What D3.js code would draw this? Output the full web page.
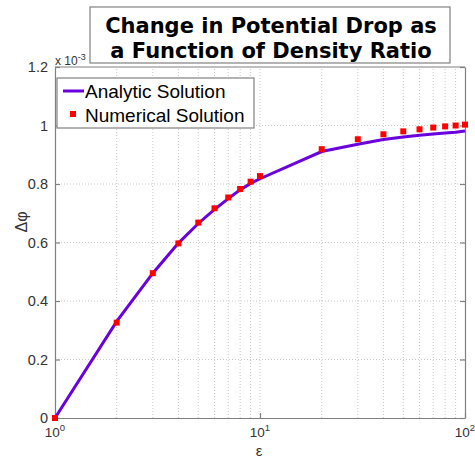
<!DOCTYPE html>
<html><head><meta charset="utf-8">
<script src="https://cdn.jsdelivr.net/npm/d3@7"></script>
<style>body{margin:0;background:#fff}</style>
</head><body>
<script>
const epsilon = [1,2,3,4,5,6,7,8,9,10,20,30,40,50,60,70,80,90,100];
const analytic = [0,0.33,0.495,0.598,0.665,0.713,0.75,0.78,0.802,0.818,0.911,0.936,0.952,0.961,0.967,0.971,0.974,0.977,0.981];
const numerical = [0,0.326,0.495,0.597,0.668,0.717,0.754,0.783,0.808,0.827,0.919,0.953,0.970,0.980,0.987,0.993,0.997,1.000,1.003];
const yTicks = [0,0.2,0.4,0.6,0.8,1,1.2];
const xTicks = [1,10,100];
const titleLines = ["Change in Potential Drop as","a Function of Density Ratio"];
const legendLabels = ["Analytic Solution","Numerical Solution"];

const W=475,H=458;
const m={l:55,r:10,t:67,b:40};
const svg=d3.select("body").append("svg").attr("width",W).attr("height",H);
const x=d3.scaleLog().domain([1,100]).range([m.l,W-m.r]);
const y=d3.scaleLinear().domain([0,1.2]).range([H-m.b,m.t]);
const grey="#808080";
const font="Liberation Sans, Arial";

// grid
const minor=[];
for(let d=1;d<100;d*=10) for(let k=2;k<=10;k++) minor.push(d*k);
svg.append("g").selectAll("line").data(minor.filter(v=>v<100)).join("line")
 .attr("x1",d=>x(d)).attr("x2",d=>x(d)).attr("y1",y(0)).attr("y2",y(1.2))
 .attr("stroke","#c8c8c8").attr("stroke-dasharray","1,2").attr("stroke-width",1);
svg.append("g").selectAll("line").data(yTicks.filter(v=>v>0&&v<1.2)).join("line")
 .attr("x1",x(1)).attr("x2",x(100)).attr("y1",d=>y(d)).attr("y2",d=>y(d))
 .attr("stroke","#c8c8c8").attr("stroke-dasharray","1,2").attr("stroke-width",1);

// axes
const yAx=svg.append("g").attr("transform",`translate(${m.l},0)`)
 .call(d3.axisLeft(y).tickValues(yTicks).tickFormat(d3.format("~g")).tickSizeInner(-5).tickSizeOuter(0).tickPadding(7));
const yAxR=svg.append("g").attr("transform",`translate(${W-m.r},0)`)
 .call(d3.axisRight(y).tickValues(yTicks).tickFormat("").tickSizeInner(-5).tickSizeOuter(0));
const xAx=svg.append("g").attr("transform",`translate(0,${H-m.b})`)
 .call(d3.axisBottom(x).tickValues(xTicks).tickFormat("").tickSizeInner(-5).tickSizeOuter(0));
[yAx,yAxR,xAx].forEach(g=>{g.selectAll("path,line").attr("stroke",grey).attr("stroke-width",1.2);
 g.selectAll("text").attr("fill","#333").attr("font-family",font).attr("font-size",14.5);});
svg.append("line").attr("x1",x(1)).attr("x2",x(100)).attr("y1",y(1.2)).attr("y2",y(1.2)).attr("stroke",grey).attr("stroke-width",1.2);

// x tick labels 10^n
xTicks.forEach(v=>{
 const t=svg.append("text").attr("x",x(v)).attr("y",437).attr("text-anchor","middle")
  .attr("font-family",font).attr("font-size",13.5).attr("fill","#333");
 t.append("tspan").text("10");
 t.append("tspan").attr("dy",-6).attr("font-size",9.5).text(Math.round(Math.log10(v)));
});
// exponent
const ex=svg.append("text").attr("x",m.l).attr("y",m.t-2).attr("font-family",font).attr("font-size",12).attr("fill","#333");
ex.append("tspan").text("x 10");
ex.append("tspan").attr("dy",-5).attr("font-size",9).text("-3");

// axis labels
svg.append("text").attr("transform",`translate(27,222) rotate(-90)`).attr("text-anchor","middle")
 .attr("font-family",font).attr("font-size",16).attr("fill","#333").text("Δφ");
svg.append("text").attr("x",x(10)-1).attr("y",456).attr("text-anchor","middle")
 .attr("font-family",font).attr("font-size",15).attr("fill","#333").text("ε");

// line
const lineGen=d3.line().x((d,i)=>x(epsilon[i])).y(d=>y(d));
svg.append("path").datum(analytic).attr("d",lineGen).attr("fill","none").attr("stroke","#6a00dc").attr("stroke-width",3);
// markers
const s=6;
svg.append("g").selectAll("rect").data(numerical).join("rect")
 .attr("x",(d,i)=>x(epsilon[i])-s/2).attr("y",d=>y(d)-s/2).attr("width",s).attr("height",s).attr("fill","#f00");

// legend
const lg=svg.append("g");
lg.append("rect").attr("x",57).attr("y",78).attr("width",197).attr("height",50).attr("fill","#fff").attr("stroke",grey).attr("stroke-width",1.2);
lg.append("line").attr("x1",63).attr("x2",84).attr("y1",91).attr("y2",91).attr("stroke","#6a00dc").attr("stroke-width",3);
lg.append("rect").attr("x",70).attr("y",111).attr("width",6).attr("height",6).attr("fill","#f00");
legendLabels.forEach((t,i)=>lg.append("text").attr("x",85).attr("y",98+i*24).attr("font-family",font).attr("font-size",19).attr("fill","#000").text(t));

// title
svg.append("rect").attr("x",90).attr("y",7).attr("width",360).attr("height",56).attr("fill","#fff").attr("stroke",grey).attr("stroke-width",1.2);
titleLines.forEach((t,i)=>svg.append("text").attr("x",271).attr("y",33+i*25).attr("text-anchor","middle")
 .attr("font-family","DejaVu Sans").attr("font-weight","bold").attr("font-size",21).attr("fill","#000").text(t));
</script>
</body></html>
